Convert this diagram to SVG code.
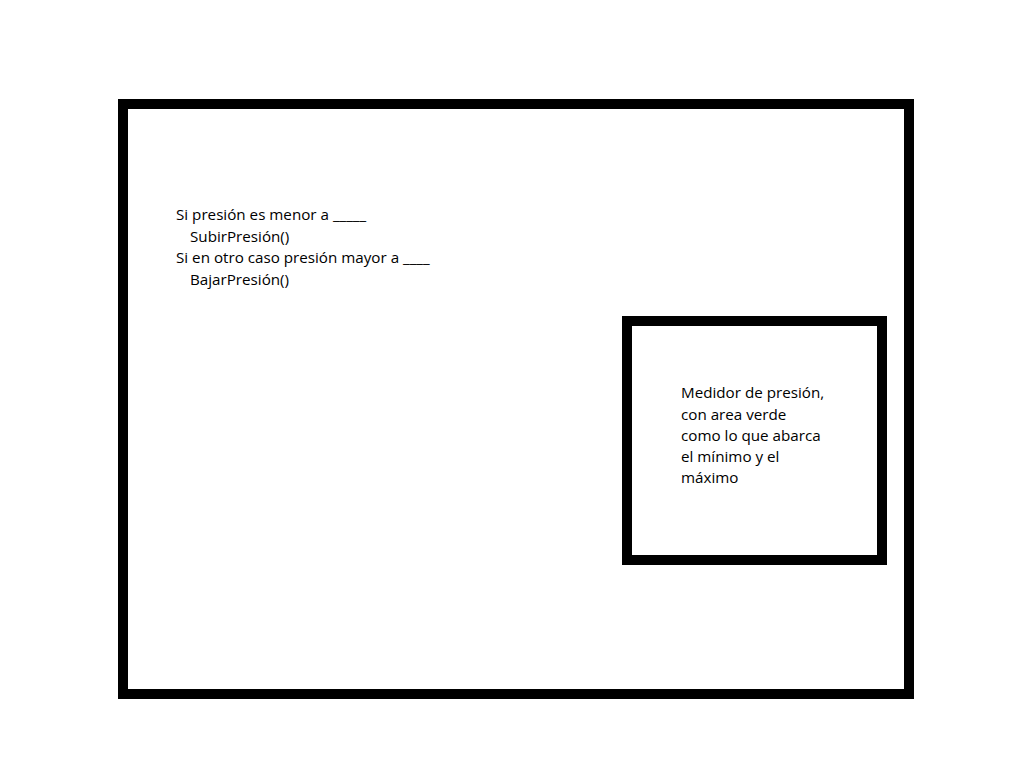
<svg xmlns="http://www.w3.org/2000/svg" width="1024" height="768" viewBox="0 0 1024 768">
<style>
.box{fill:none;stroke:#000;stroke-width:10}
.t{font-family:"Open Sans","Noto Sans","DejaVu Sans",sans-serif;font-size:15.2px;fill:#000}
</style>
<rect x="0" y="0" width="1024" height="768" fill="#fff"/>
<g id="controller">
<rect class="box" x="123" y="104" width="786" height="590"/>
<text class="t">
<tspan x="176" y="220">Si presión es menor a _____</tspan>
<tspan x="190" y="241.5">SubirPresión()</tspan>
<tspan x="176" y="263">Si en otro caso presión mayor a ____</tspan>
<tspan x="190" y="284.5">BajarPresión()</tspan>
</text>
</g>
<g id="gauge">
<rect class="box" x="627" y="321" width="255" height="239"/>
<text class="t">
<tspan x="681" y="398">Medidor de presión,</tspan>
<tspan x="681" y="419.5">con area verde</tspan>
<tspan x="681" y="441">como lo que abarca</tspan>
<tspan x="681" y="462">el mínimo y el</tspan>
<tspan x="681" y="483">máximo</tspan>
</text>
</g>
<g id="connectors"/>
</svg>
